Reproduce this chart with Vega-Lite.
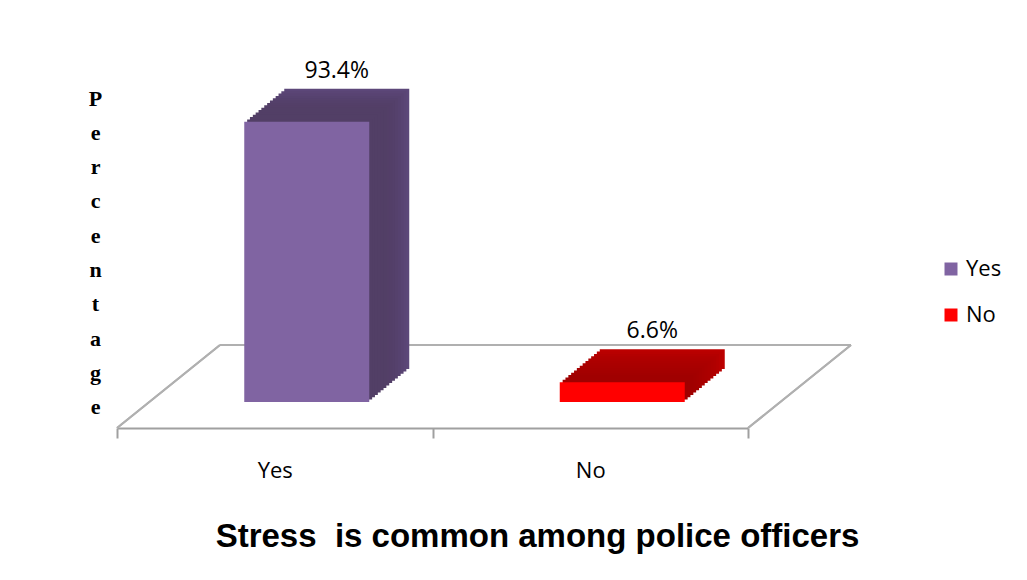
{
  "$schema": "https://vega.github.io/schema/vega-lite/v6.json",
  "width": 631,
  "height": 300,
  "autosize": {"type": "none"},
  "padding": {"left": 117, "top": 102, "right": 279, "bottom": 178},
  "background": "white",
  "config": {"view": {"stroke": null}},
  "data": {"values": [
    {"answer": "Yes", "percent": 93.4, "label": "93.4%"},
    {"answer": "No", "percent": 6.6, "label": "6.6%"}
  ]},
  "encoding": {
    "x": {
      "field": "answer", "type": "nominal", "sort": ["Yes", "No"],
      "scale": {"paddingInner": 0, "paddingOuter": 0},
      "axis": {
        "labelAngle": 0, "labelFont": "Open Sans", "labelFontSize": 22, "labelColor": "black",
        "labelPadding": 22, "offset": 26, "tickBand": "extent", "tickSize": 10,
        "tickColor": "#a0a0a0", "tickWidth": 2, "domainColor": "#a0a0a0", "domainWidth": 2,
        "title": "Stress\u00a0\u00a0is common among police officers",
        "titleFont": "Liberation Sans", "titleFontSize": 33, "titleFontWeight": "bold",
        "titleColor": "black", "titleAlign": "center", "titleX": 420, "titleY": 118,
        "titleBaseline": "alphabetic"
      }
    },
    "y": {
      "field": "percent", "type": "quantitative",
      "scale": {"domain": [0, 100], "nice": false},
      "axis": {
        "labels": false, "ticks": false, "domain": false, "grid": false,
        "title": ["P", "e", "r", "c", "e", "n", "t", "a", "g", "e"],
        "titleFont": "Liberation Serif", "titleFontSize": 22, "titleFontWeight": "bold",
        "titleColor": "black", "titleAngle": 0, "titleAlign": "center",
        "titleBaseline": "top", "titleX": -22, "titleY": -14, "titleLineHeight": 34.3
      }
    }
  },
  "layer": [
    {
      "mark": {"type": "rule", "color": "#b0b0b0", "strokeWidth": 2, "xOffset": 103, "x2Offset": 103, "yOffset": -57, "y2Offset": -57},
      "encoding": {
        "x": {"datum": "Yes", "bandPosition": 0},
        "x2": {"datum": "No", "bandPosition": 1},
        "y": {"datum": 0}, "y2": {"datum": 0}
      }
    },
    {
      "mark": {"type": "rule", "color": "#b0b0b0", "strokeWidth": 2, "yOffset": 26, "x2Offset": 103, "y2Offset": -57},
      "encoding": {
        "x": {"datum": "Yes", "bandPosition": 0},
        "x2": {"datum": "Yes", "bandPosition": 0},
        "y": {"datum": 0}, "y2": {"datum": 0}
      }
    },
    {
      "mark": {"type": "rule", "color": "#b0b0b0", "strokeWidth": 2, "yOffset": 26, "x2Offset": 103, "y2Offset": -57},
      "encoding": {
        "x": {"datum": "No", "bandPosition": 1},
        "x2": {"datum": "No", "bandPosition": 1},
        "y": {"datum": 0}, "y2": {"datum": 0}
      }
    },
    {"mark": {"type": "bar", "size": 125, "xOffset": 72, "x2Offset": 72, "yOffset": -33, "y2Offset": -33},
     "encoding": {"color": {"condition": {"test": "datum.answer === 'Yes'", "value": "#5c4779"}, "value": "#bc0000"}}},
    {"mark": {"type": "bar", "size": 125, "xOffset": 69.1, "x2Offset": 69.1, "yOffset": -30.6, "y2Offset": -30.6},
     "encoding": {"color": {"condition": {"test": "datum.answer === 'Yes'", "value": "#5a4575"}, "value": "#b80000"}}},
    {"mark": {"type": "bar", "size": 125, "xOffset": 66.3, "x2Offset": 66.3, "yOffset": -28.3, "y2Offset": -28.3},
     "encoding": {"color": {"condition": {"test": "datum.answer === 'Yes'", "value": "#584372"}, "value": "#b40000"}}},
    {"mark": {"type": "bar", "size": 125, "xOffset": 63.4, "x2Offset": 63.4, "yOffset": -25.9, "y2Offset": -25.9},
     "encoding": {"color": {"condition": {"test": "datum.answer === 'Yes'", "value": "#56426f"}, "value": "#b00000"}}},
    {"mark": {"type": "bar", "size": 125, "xOffset": 60.6, "x2Offset": 60.6, "yOffset": -23.6, "y2Offset": -23.6},
     "encoding": {"color": {"condition": {"test": "datum.answer === 'Yes'", "value": "#55416c"}, "value": "#ae0000"}}},
    {"mark": {"type": "bar", "size": 125, "xOffset": 57.7, "x2Offset": 57.7, "yOffset": -21.2, "y2Offset": -21.2},
     "encoding": {"color": {"condition": {"test": "datum.answer === 'Yes'", "value": "#54406a"}, "value": "#ac0000"}}},
    {"mark": {"type": "bar", "size": 125, "xOffset": 54.9, "x2Offset": 54.9, "yOffset": -18.9, "y2Offset": -18.9},
     "encoding": {"color": {"condition": {"test": "datum.answer === 'Yes'", "value": "#533f68"}, "value": "#aa0000"}}},
    {"mark": {"type": "bar", "size": 125, "xOffset": 52, "x2Offset": 52, "yOffset": -16.5, "y2Offset": -16.5},
     "encoding": {"color": {"condition": {"test": "datum.answer === 'Yes'", "value": "#533f67"}, "value": "#a80000"}}},
    {"mark": {"type": "bar", "size": 125, "xOffset": 49.1, "x2Offset": 49.1, "yOffset": -14.1, "y2Offset": -14.1},
     "encoding": {"color": {"condition": {"test": "datum.answer === 'Yes'", "value": "#523f66"}, "value": "#a60000"}}},
    {"mark": {"type": "bar", "size": 125, "xOffset": 46.3, "x2Offset": 46.3, "yOffset": -11.8, "y2Offset": -11.8},
     "encoding": {"color": {"condition": {"test": "datum.answer === 'Yes'", "value": "#523f66"}, "value": "#a40000"}}},
    {"mark": {"type": "bar", "size": 125, "xOffset": 43.4, "x2Offset": 43.4, "yOffset": -9.4, "y2Offset": -9.4},
     "encoding": {"color": {"condition": {"test": "datum.answer === 'Yes'", "value": "#523f66"}, "value": "#a20000"}}},
    {"mark": {"type": "bar", "size": 125, "xOffset": 40.6, "x2Offset": 40.6, "yOffset": -7.1, "y2Offset": -7.1},
     "encoding": {"color": {"condition": {"test": "datum.answer === 'Yes'", "value": "#523f66"}, "value": "#a00000"}}},
    {"mark": {"type": "bar", "size": 125, "xOffset": 37.7, "x2Offset": 37.7, "yOffset": -4.7, "y2Offset": -4.7},
     "encoding": {"color": {"condition": {"test": "datum.answer === 'Yes'", "value": "#523f66"}, "value": "#a00000"}}},
    {"mark": {"type": "bar", "size": 125, "xOffset": 34.9, "x2Offset": 34.9, "yOffset": -2.4, "y2Offset": -2.4},
     "encoding": {"color": {"condition": {"test": "datum.answer === 'Yes'", "value": "#523f66"}, "value": "#a00000"}}},
    {
      "mark": {"type": "bar", "size": 125, "xOffset": 32, "x2Offset": 32},
      "encoding": {
        "color": {
          "field": "answer", "type": "nominal",
          "scale": {"domain": ["Yes", "No"], "range": ["#8064a2", "#ff0000"]},
          "legend": {
            "title": null, "orient": "none", "legendX": 823, "legendY": 156,
            "symbolType": "square", "symbolSize": 169, "symbolStrokeWidth": 0,
            "labelFont": "Open Sans", "labelFontSize": 22, "labelColor": "black",
            "labelOffset": 4, "rowPadding": 24
          }
        }
      }
    },
    {
      "mark": {"type": "text", "font": "Open Sans", "fontSize": 23, "color": "black", "dx": 62, "dy": -44, "baseline": "alphabetic"},
      "encoding": {"text": {"field": "label"}}
    }
  ]
}
